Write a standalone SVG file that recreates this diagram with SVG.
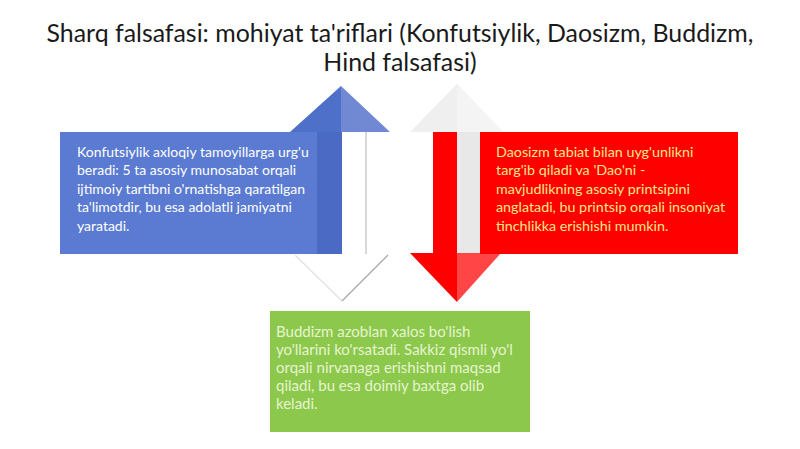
<svg xmlns="http://www.w3.org/2000/svg" width="800" height="449" viewBox="0 0 800 449">
<style>
.title{font-family:Lato,"Open Sans","Liberation Sans",sans-serif;font-size:24.9px;fill:#1a1a1a;text-anchor:middle}
.body{font-family:Lato,"Open Sans","Liberation Sans",sans-serif;font-size:14px}
.red{font-size:14.3px}
.big{font-size:15px}
.wt{fill:#ffffff}
.yt{fill:#ffe68a}
.gt{fill:#e6f4d0}
</style>
<rect width="800" height="449" fill="#ffffff"/>
<g id="title">
<text class="title" x="400" y="42">Sharq falsafasi: mohiyat ta'riflari (Konfutsiylik, Daosizm, Buddizm,</text>
<text class="title" x="400" y="70.5">Hind falsafasi)</text>
</g>
<g id="connectors">
<polygon points="290,132 341,86 341,132" fill="#4f70c9"/>
<polygon points="341,86 390,132 341,132" fill="#7189d2"/>
<rect x="317" y="132" width="25" height="122" fill="#4a6ac4"/>
<rect x="342" y="132" width="24" height="122" fill="#ffffff"/>
<line x1="366" y1="132" x2="366" y2="254" stroke="#bdbdbd" stroke-width="1.2"/>
<polygon points="295,255 342,301 388,255" fill="#ffffff"/>
<polyline points="295,255 342,301" fill="none" stroke="#e4e4e4" stroke-width="1.5"/>
<polyline points="342,301 388,255" fill="none" stroke="#a8a8a8" stroke-width="1.3"/>
<polygon points="410,132 457,84 503,132" fill="#efefef"/>
<polygon points="457,84 503,132 457,132" fill="#f4f4f4"/>
<rect x="457" y="132" width="23" height="122" fill="#e8e8e8"/>
<rect x="433" y="132" width="24" height="122" fill="#ff0000"/>
<polygon points="410,253 457,302 457,253" fill="#ff0000"/>
<polygon points="457,253 457,302 501,253" fill="#ff4545"/>
</g>
<g id="konfutsiylik">
<rect x="60" y="132" width="257" height="122" fill="#5a7bd1"/>
<text class="body wt" x="77" y="156.5">Konfutsiylik axloqiy tamoyillarga urg'u</text>
<text class="body wt" x="77" y="175">beradi: 5 ta asosiy munosabat orqali</text>
<text class="body wt" x="77" y="193.5">ijtimoiy tartibni o'rnatishga qaratilgan</text>
<text class="body wt" x="77" y="212">ta'limotdir, bu esa adolatli jamiyatni</text>
<text class="body wt" x="77" y="230.5">yaratadi.</text>
</g>
<g id="daosizm">
<rect x="480" y="132" width="258" height="122" fill="#ff0000"/>
<text class="body red yt" x="496" y="156.5">Daosizm tabiat bilan uyg'unlikni</text>
<text class="body red yt" x="496" y="175">targ'ib qiladi va 'Dao'ni -</text>
<text class="body red yt" x="496" y="193.5">mavjudlikning asosiy printsipini</text>
<text class="body red yt" x="496" y="212">anglatadi, bu printsip orqali insoniyat</text>
<text class="body red yt" x="496" y="230.5">tinchlikka erishishi mumkin.</text>
</g>
<g id="buddizm">
<rect x="270" y="311" width="260" height="121" fill="#8cc84b"/>
<text class="body big gt" x="276" y="336.5">Buddizm azoblan xalos bo'lish</text>
<text class="body big gt" x="276" y="354.5">yo'llarini ko'rsatadi. Sakkiz qismli yo'l</text>
<text class="body big gt" x="276" y="372.5">orqali nirvanaga erishishni maqsad</text>
<text class="body big gt" x="276" y="390.5">qiladi, bu esa doimiy baxtga olib</text>
<text class="body big gt" x="276" y="408.5">keladi.</text>
</g>
</svg>
